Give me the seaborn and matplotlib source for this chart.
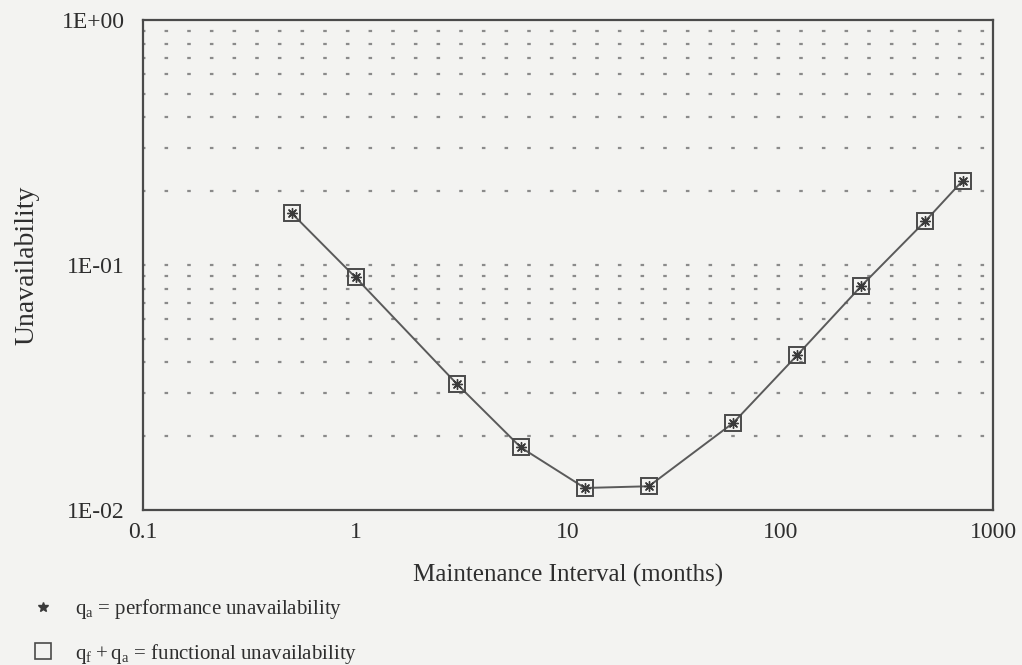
import numpy as np
import pandas as pd
import matplotlib
matplotlib.use("Agg")
import matplotlib.pyplot as plt
from matplotlib.lines import Line2D
from matplotlib.ticker import FixedLocator, FixedFormatter, NullLocator
import seaborn as sns

# ---- data ----
interval_months = [0.5, 1, 3, 6, 12, 24, 60, 120, 240, 480, 720]
q_a = [0.163, 0.089, 0.0327, 0.0180, 0.0123, 0.0125, 0.0227, 0.0429, 0.0821, 0.151, 0.221]
q_f_plus_q_a = [0.163, 0.089, 0.0327, 0.0180, 0.0123, 0.0125, 0.0227, 0.0429, 0.0821, 0.151, 0.221]

x_ticks = [0.1, 1, 10, 100, 1000]
x_tick_labels = ["0.1", "1", "10", "100", "1000"]
y_ticks = [0.01, 0.1, 1.0]
y_tick_labels = ["1E-02", "1E-01", "1E+00"]
y_grid = [0.02, 0.03, 0.04, 0.05, 0.06, 0.07, 0.08, 0.09, 0.1,
          0.2, 0.3, 0.4, 0.5, 0.6, 0.7, 0.8, 0.9]

legend_labels = [r"$\mathregular{q_a}$ = performance unavailability",
                 r"$\mathregular{q_f + q_a}$ = functional unavailability"]

BG = "#f3f3f1"
INK = "#2e2e2e"
LINE = "#5a5a5a"

sns.set_theme(style="white")
plt.rcParams["font.family"] = ["Liberation Serif", "DejaVu Serif"]
plt.rcParams["mathtext.fontset"] = "custom"
plt.rcParams["mathtext.rm"] = "Liberation Serif"

df = pd.DataFrame({
    "interval": interval_months * 2,
    "value": q_a + q_f_plus_q_a,
    "series": ["qa"] * len(q_a) + ["qfqa"] * len(q_f_plus_q_a),
})

fig = plt.figure(figsize=(10.22, 6.65), dpi=100, facecolor=BG)
ax = fig.add_axes([143 / 1022, 1 - 510 / 665, 850 / 1022, 490 / 665])
ax.set_facecolor(BG)
ax.set_xscale("log")
ax.set_yscale("log")
ax.set_xlim(0.1, 1000)
ax.set_ylim(0.01, 1.0)

# dotted horizontal grid at minor decades
for g in y_grid:
    ax.axhline(g, color="#8a8a8a", lw=1.6, linestyle=(0.5, (1.6, 8.6)), zorder=1)

sub_f = df[df.series == "qfqa"]
sub_a = df[df.series == "qa"]
sns.lineplot(data=sub_f, x="interval", y="value", ax=ax, color=LINE, lw=1.4,
             marker="s", markersize=11, markerfacecolor="none",
             markeredgecolor="#4a4a4a", markeredgewidth=1.4, zorder=3, legend=False)
sns.scatterplot(data=sub_a, x="interval", y="value", ax=ax, marker=(8, 2, 0),
                s=50, color="#3a3a3a", linewidth=1.0, zorder=4, legend=False)

ax.xaxis.set_major_locator(FixedLocator(x_ticks))
ax.xaxis.set_major_formatter(FixedFormatter(x_tick_labels))
ax.xaxis.set_minor_locator(NullLocator())
ax.yaxis.set_major_locator(FixedLocator(y_ticks))
ax.yaxis.set_major_formatter(FixedFormatter(y_tick_labels))
ax.yaxis.set_minor_locator(FixedLocator(y_grid))

ax.tick_params(axis="x", which="both", length=0, pad=9, labelsize=17, colors=INK)
ax.tick_params(axis="y", which="major", direction="in", length=5, width=1.2,
               pad=13, labelsize=17, colors=INK)
ax.tick_params(axis="y", which="minor", direction="in", length=4, width=1.0, colors=INK)

for s in ax.spines.values():
    s.set_visible(True)
    s.set_color("#4a4a4a")
    s.set_linewidth(1.6)

ax.set_xlabel("Maintenance Interval (months)", fontsize=18, color=INK, labelpad=15)
ax.set_ylabel("Unavailability", fontsize=20, color=INK, labelpad=16)

handles = [
    Line2D([], [], linestyle="none", marker="*", markersize=7, color="#3a3a3a"),
    Line2D([], [], linestyle="none", marker="s", markersize=11,
           markerfacecolor="none", markeredgecolor="#4a4a4a", markeredgewidth=1.2),
]
fig.legend(handles, legend_labels, loc="upper left", bbox_to_anchor=(0.022, 0.118),
           frameon=False, fontsize=15, labelcolor=INK, handlelength=1.0,
           handletextpad=1.0, labelspacing=1.0, borderpad=0)

fig.savefig("out.png", dpi=100, facecolor=BG)
